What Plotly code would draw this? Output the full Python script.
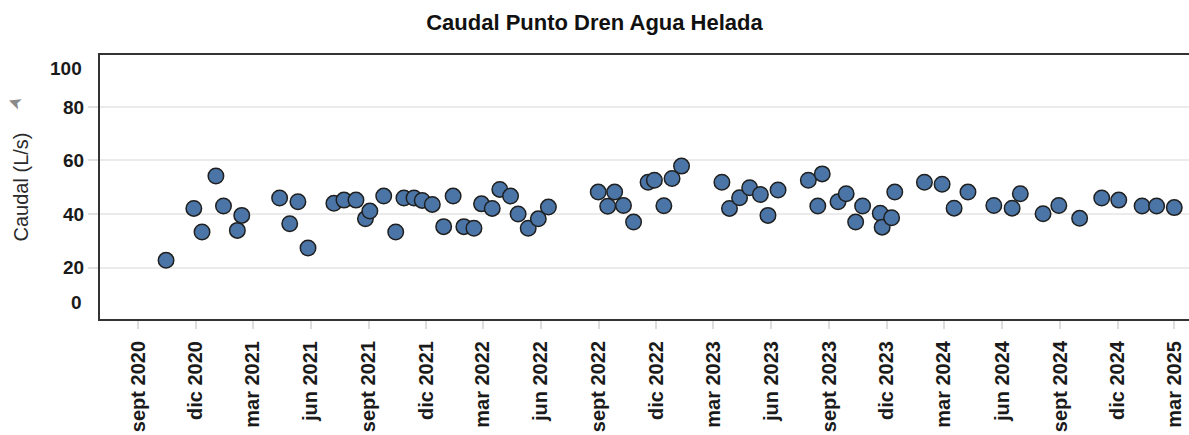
import plotly.graph_objects as go

# ---- data ----
dates = [
    "2020-10-15", "2020-11-28", "2020-12-11", "2021-01-02", "2021-01-14", "2021-02-05",
    "2021-02-12", "2021-04-13", "2021-04-29", "2021-05-12", "2021-05-28", "2021-07-08",
    "2021-07-24", "2021-08-12", "2021-08-27", "2021-09-03", "2021-09-25", "2021-10-14",
    "2021-10-27", "2021-11-12", "2021-11-25", "2021-12-11", "2021-12-29", "2022-01-13",
    "2022-01-30", "2022-02-15", "2022-02-27", "2022-03-16", "2022-03-28", "2022-04-14",
    "2022-04-26", "2022-05-12", "2022-05-28", "2022-06-13", "2022-08-31", "2022-09-15",
    "2022-09-26", "2022-10-10", "2022-10-26", "2022-11-18", "2022-11-28", "2022-12-13",
    "2022-12-26", "2023-01-10", "2023-03-15", "2023-03-27", "2023-04-12", "2023-04-28",
    "2023-05-15", "2023-05-27", "2023-06-12", "2023-07-30", "2023-08-14", "2023-08-21",
    "2023-09-15", "2023-09-28", "2023-10-13", "2023-10-24", "2023-11-21", "2023-11-24",
    "2023-12-09", "2023-12-14", "2024-01-30", "2024-02-27", "2024-03-17", "2024-04-08",
    "2024-05-19", "2024-06-17", "2024-06-30", "2024-08-05", "2024-08-30", "2024-10-02",
    "2024-11-06", "2024-12-03", "2025-01-09", "2025-02-01", "2025-03-01",
]
caudal = [
    22.7, 42.1, 33.3, 54.2, 43.0, 33.9,
    39.5, 46.0, 36.4, 44.6, 27.3, 44.0,
    45.2, 45.2, 38.2, 41.1, 46.7, 33.3,
    46.0, 46.0, 45.1, 43.6, 35.3, 46.7,
    35.3, 34.7, 43.8, 42.1, 49.2, 46.7,
    40.0, 34.7, 38.2, 42.6, 48.2, 42.9,
    48.2, 43.2, 37.0, 51.9, 52.6, 43.1,
    53.3, 57.9, 51.9, 42.1, 46.1, 49.8,
    47.3, 39.5, 49.0, 52.6, 43.0, 55.0,
    44.6, 47.6, 37.0, 43.0, 40.3, 35.1,
    38.6, 48.2, 51.9, 51.1, 42.2, 48.2,
    43.2, 42.2, 47.6, 40.1, 43.2, 38.4,
    46.0, 45.2, 43.0, 43.0, 42.4,
]

tick_dates = [
    "2020-09-01", "2020-12-01", "2021-03-01", "2021-06-01", "2021-09-01", "2021-12-01",
    "2022-03-01", "2022-06-01", "2022-09-01", "2022-12-01", "2023-03-01", "2023-06-01",
    "2023-09-01", "2023-12-01", "2024-03-01", "2024-06-01", "2024-09-01", "2024-12-01",
    "2025-03-01",
]
tick_labels = [
    "sept 2020", "dic 2020", "mar 2021", "jun 2021", "sept 2021", "dic 2021",
    "mar 2022", "jun 2022", "sept 2022", "dic 2022", "mar 2023", "jun 2023",
    "sept 2023", "dic 2023", "mar 2024", "jun 2024", "sept 2024", "dic 2024",
    "mar 2025",
]
y_ticks = [20, 40, 60, 80]
y_edge_labels = {"100": 94.4, "0": 6.9}

FONT = "Liberation Sans, Arial, sans-serif"

fig = go.Figure()
fig.add_trace(go.Scatter(
    x=dates, y=caudal, mode="markers",
    marker=dict(size=15.5, color="#4b75a6", line=dict(color="#1f1f1f", width=1.5)),
    showlegend=False,
))

annotations = []
for txt, yv in y_edge_labels.items():
    annotations.append(dict(
        text="<b>%s</b>" % txt, x=0, xref="paper", y=yv, yref="y",
        xanchor="right", yanchor="middle", xshift=-16, showarrow=False,
        font=dict(family=FONT, size=19, color="#1a1a1a"),
    ))
# small sort/cursor glyph beside the axis title
annotations.append(dict(
    text="➤", x=0, xref="paper", y=(321.4 - 103) / 2.683, yref="y",
    xanchor="center", yanchor="middle", xshift=-85, showarrow=False,
    textangle=200, font=dict(family="DejaVu Sans", size=17, color="#8a8a8a"),
))

fig.update_layout(
    width=1189, height=435,
    margin=dict(l=100, r=0, t=55, b=116),
    paper_bgcolor="white", plot_bgcolor="white",
    title=dict(
        text="<b>Caudal Punto Dren Agua Helada</b>",
        x=0.5, xref="container", y=1 - 22 / 435, yref="container",
        xanchor="center", yanchor="middle",
        font=dict(family=FONT, size=22, color="#111111"),
    ),
    xaxis=dict(
        type="date", automargin=False,
        range=["2020-07-02 07:00", "2025-03-24 08:00"],
        tickvals=tick_dates, ticktext=tick_labels, tickangle=-90,
        tickfont=dict(family=FONT, size=20, color="#1a1a1a", weight="bold"),
        showgrid=False, zeroline=False,
        showline=True, mirror=True, linecolor="#333333", linewidth=2,
        ticks="outside", ticklen=8, tickwidth=1.5, tickcolor="#dddddd",
        ticklabelstandoff=4,
    ),
    yaxis=dict(
        automargin=False,
        range=[0.8, 99.4],
        tickvals=y_ticks,
        tickfont=dict(family=FONT, size=19, color="#1a1a1a", weight="bold"),
        showgrid=True, gridcolor="#ebebeb", gridwidth=1.5, zeroline=False,
        showline=True, mirror=False, linecolor="#333333", linewidth=2,
        ticks="outside", ticklen=10, tickwidth=1.5, tickcolor="#e0e0e0",
        title=dict(text="Caudal (L/s)", standoff=29,
                   font=dict(family=FONT, size=20, color="#2a2a2a")),
    ),
    annotations=annotations,
)

fig.write_html("out.html",
               config={"displayModeBar": False},
               post_script="document.body.style.margin='0';document.body.style.overflow='hidden';")
